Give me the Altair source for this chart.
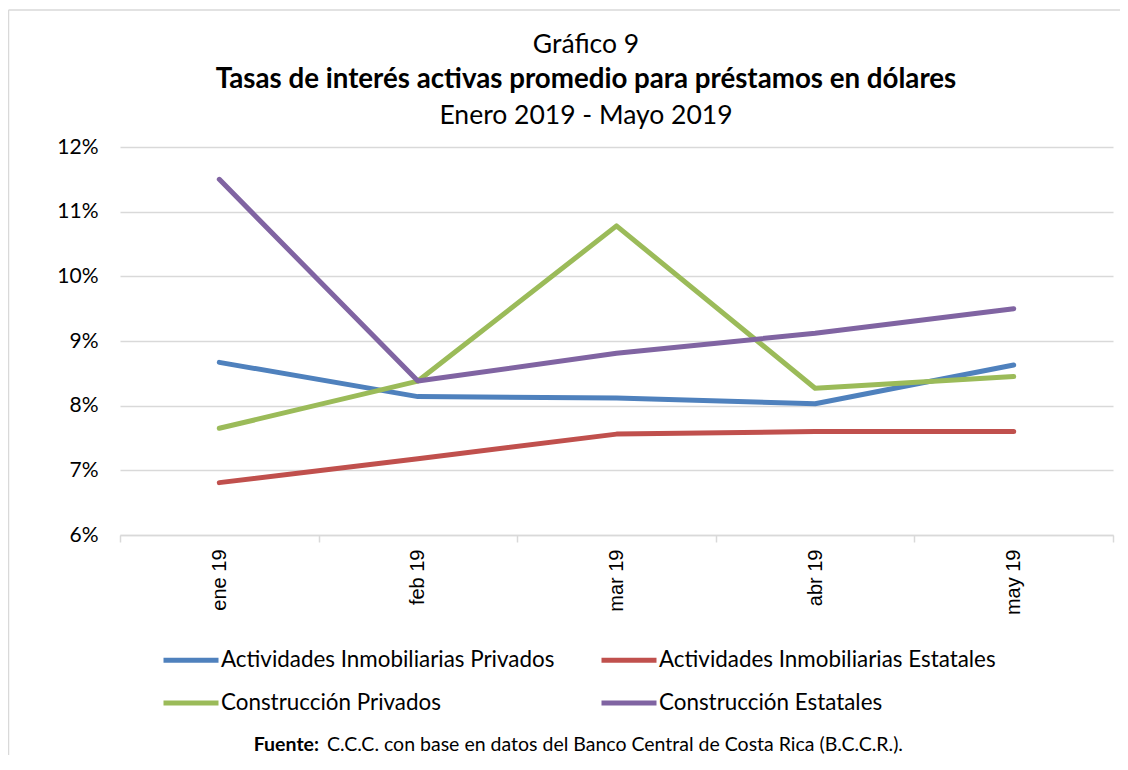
import altair as alt
import pandas as pd

months = ["ene 19", "feb 19", "mar 19", "abr 19", "may 19"]
series_names = [
    "Actividades Inmobiliarias Privados",
    "Actividades Inmobiliarias Estatales",
    "Construcción Privados",
    "Construcción Estatales",
]
act_priv = [8.67, 8.14, 8.12, 8.03, 8.63]
act_est = [6.81, 7.18, 7.56, 7.60, 7.60]
con_priv = [7.65, 8.38, 10.78, 8.27, 8.45]
con_est = [11.50, 8.38, 8.81, 9.12, 9.50]
colors = ["#4f81bd", "#c0504d", "#9bbb59", "#8064a2"]
y_ticks = [0.06, 0.07, 0.08, 0.09, 0.10, 0.11, 0.12]

title_top = "Gráfico 9"
title_main = "Tasas de interés activas promedio para préstamos en dólares"
title_sub = "Enero 2019 - Mayo 2019"
source_bold = "Fuente:"
source_text = "C.C.C. con base en datos del Banco Central de Costa Rica (B.C.C.R.)."

rows = []
for name, vals in zip(series_names, [act_priv, act_est, con_priv, con_est]):
    for m, v in zip(months, vals):
        rows.append({"mes": m, "serie": name, "tasa": v / 100})
df = pd.DataFrame(rows)

W, H = 993, 388
FONT = "Lato"

lines = alt.Chart(df).mark_line(strokeWidth=5, strokeCap="round", strokeJoin="round").encode(
    x=alt.X(
        "mes:N",
        sort=months,
        bandPosition=0.5,
        scale=alt.Scale(type="band", paddingInner=0, paddingOuter=0),
        axis=alt.Axis(
            title=None, labelAngle=-90, tickBand="extent", grid=False,
            domainColor="#d9d9d9", domainWidth=1.5, tickColor="#d9d9d9", tickWidth=1.5, tickSize=7,
            labelFont="Liberation Sans", labelFontSize=20, labelColor="#000000", labelPadding=7,
        ),
    ),
    y=alt.Y(
        "tasa:Q",
        scale=alt.Scale(domain=[0.06, 0.12], nice=False, zero=False),
        axis=alt.Axis(
            title=None, format=".0%", values=y_ticks, domain=False, ticks=False,
            gridColor="#d9d9d9", gridWidth=1.5,
            labelFont=FONT, labelFontSize=21, labelColor="#000000", labelPadding=22,
        ),
    ),
    color=alt.Color(
        "serie:N",
        sort=series_names,
        scale=alt.Scale(domain=series_names, range=colors),
        legend=alt.Legend(
            title=None, orient="none", legendX=41, legendY=483, columns=2, direction="horizontal",
            symbolType="stroke", symbolStrokeWidth=5, symbolSize=3025,
            labelFont=FONT, labelFontSize=22.4, labelColor="#000000", labelLimit=600,
            labelOffset=0, columnPadding=36, rowPadding=1,
        ),
    ),
)

def text_layer(txt, x, y, size, weight="normal", align="center", font=FONT):
    return alt.Chart(alt.Data(values=[{"t": txt}])).mark_text(
        font=font, fontSize=size, fontWeight=weight, align=align, baseline="middle", color="#000000"
    ).encode(text="t:N", x=alt.value(x), y=alt.value(y))

cx = 466
titles = [
    text_layer(title_top, cx, -102, 26.5),
    text_layer(title_main, cx, -67, 27.7, weight="bold"),
    text_layer(title_sub, cx, -31, 26.5),
    text_layer(source_bold, 199, 598, 19.5, weight="bold", align="right"),
    text_layer(source_text, 207, 598, 19.5, align="left"),
]

frame_left = alt.Chart(alt.Data(values=[{}])).mark_rule(color="#d9d9d9", strokeWidth=1.5).encode(
    x=alt.value(-111.5), y=alt.value(-137), y2=alt.value(H + 230)
)
frame_top = alt.Chart(alt.Data(values=[{}])).mark_rule(color="#d9d9d9", strokeWidth=1.5).encode(
    x=alt.value(-111.5), x2=alt.value(W + 20), y=alt.value(-137)
)

chart = alt.layer(frame_left, frame_top, lines, *titles).properties(
    width=W, height=H,
    autosize=alt.AutoSizeParams(type="none"),
    padding={"left": 112, "top": 139, "right": 7, "bottom": 220},
    background="white",
).configure_view(stroke=None)

chart.save("out.html", embed_options={"renderer": "svg", "actions": False})
